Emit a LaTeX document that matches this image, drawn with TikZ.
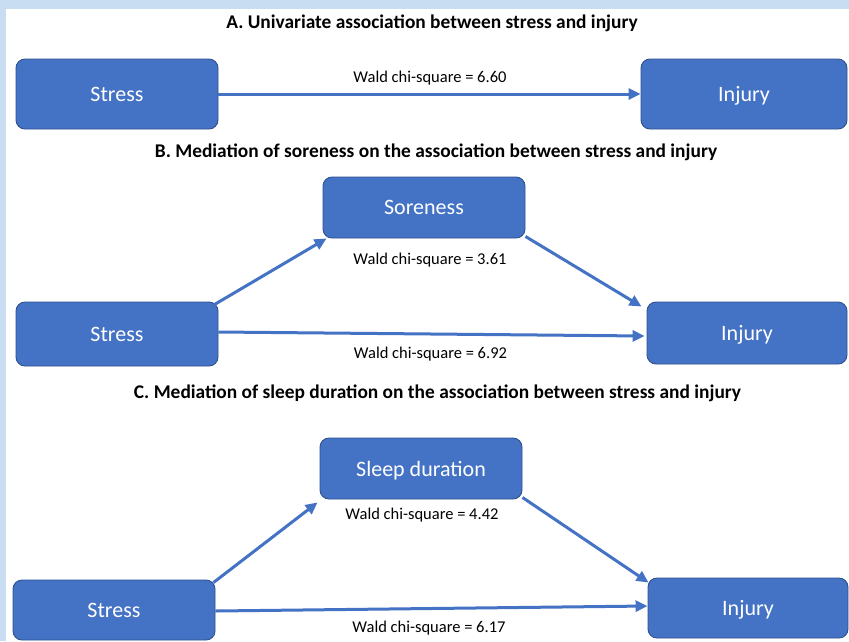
\documentclass[tikz,border=0pt]{standalone}
\usepackage{fontspec}
\setmainfont{Carlito}
\usetikzlibrary{arrows.meta,calc}
\definecolor{bx}{HTML}{4472C4}
\definecolor{bxd}{HTML}{2F528F}
\definecolor{framecol}{HTML}{C8DCF2}
\begin{document}
\begin{tikzpicture}[x=1pt,y=-1pt,
  box/.style={draw=bxd, line width=0.9pt, fill=bx, rounded corners=9pt, text=white,
    font=\fontsize{22}{26}\selectfont, inner sep=0pt, text depth=0pt},
  lbl/.style={font=\fontsize{16.5}{19}\selectfont, text=black, inner sep=0pt},
  ttl/.style={font=\bfseries\fontsize{19.4}{23}\selectfont, text=black, inner sep=0pt},
  conn/.style={draw=bx, line width=3pt, -{Triangle[length=12pt,width=11pt]}}]
\useasboundingbox (0,0) rectangle (849,641);
\fill[framecol] (0,0) rectangle (849,641);
\fill[white] (6,9) rectangle (849,641);
% titles
\node[ttl] (tA) at (432,23) {A. Univariate association between stress and injury};
\node[ttl] (tB) at (436,152) {B. Mediation of soreness on the association between stress and injury};
\node[ttl] (tC) at (437.5,393) {C. Mediation of sleep duration on the association between stress and injury};
% A
\node[box, minimum width=202pt, minimum height=70pt] (sA) at (117,94) {Stress};
\node[box, minimum width=206pt, minimum height=70pt] (iA) at (744,94) {Injury};
\draw[conn] (sA.east) -- (iA.west);
\node[lbl] (lA) at (430,78) {Wald chi-square = 6.60};
% B
\node[box, minimum width=202pt, minimum height=61pt] (sor) at (424,207.5) {Soreness};
\node[box, minimum width=202pt, minimum height=64pt] (sB) at (117,334) {Stress};
\node[box, minimum width=200pt, minimum height=62pt] (iB) at (747,333) {Injury};
\draw[conn] ($(sB.north east)+(-4,3)$) -- ($(sor.south west)+(4,0)$);
\draw[conn] ($(sor.south east)+(0,-2)$) -- ($(iB.north west)+(-5,5)$);
\draw[conn] ($(sB.east)+(0,-2)$) -- ($(iB.west)+(-2,3)$);
\node[lbl] (lB1) at (430,260) {Wald chi-square = 3.61};
\node[lbl] (lB2) at (430.5,354) {Wald chi-square = 6.92};
% C
\node[box, minimum width=202pt, minimum height=61pt] (sl) at (421,468.5) {Sleep duration};
\node[box, minimum width=202pt, minimum height=60pt] (sC) at (114,610) {Stress};
\node[box, minimum width=200pt, minimum height=60pt] (iC) at (748,608) {Injury};
\draw[conn] ($(sC.north east)+(-2,3)$) -- ($(sl.south west)+(-2,3)$);
\draw[conn] ($(sl.south east)+(0,-2)$) -- ($(iC.north west)+(1,5)$);
\draw[conn] ($(sC.east)+(0,1)$) -- ($(iC.west)+(0,-2)$);
\node[lbl] (lC1) at (422,515) {Wald chi-square = 4.42};
\node[lbl] (lC2) at (429,628) {Wald chi-square = 6.17};
\end{tikzpicture}
\end{document}
